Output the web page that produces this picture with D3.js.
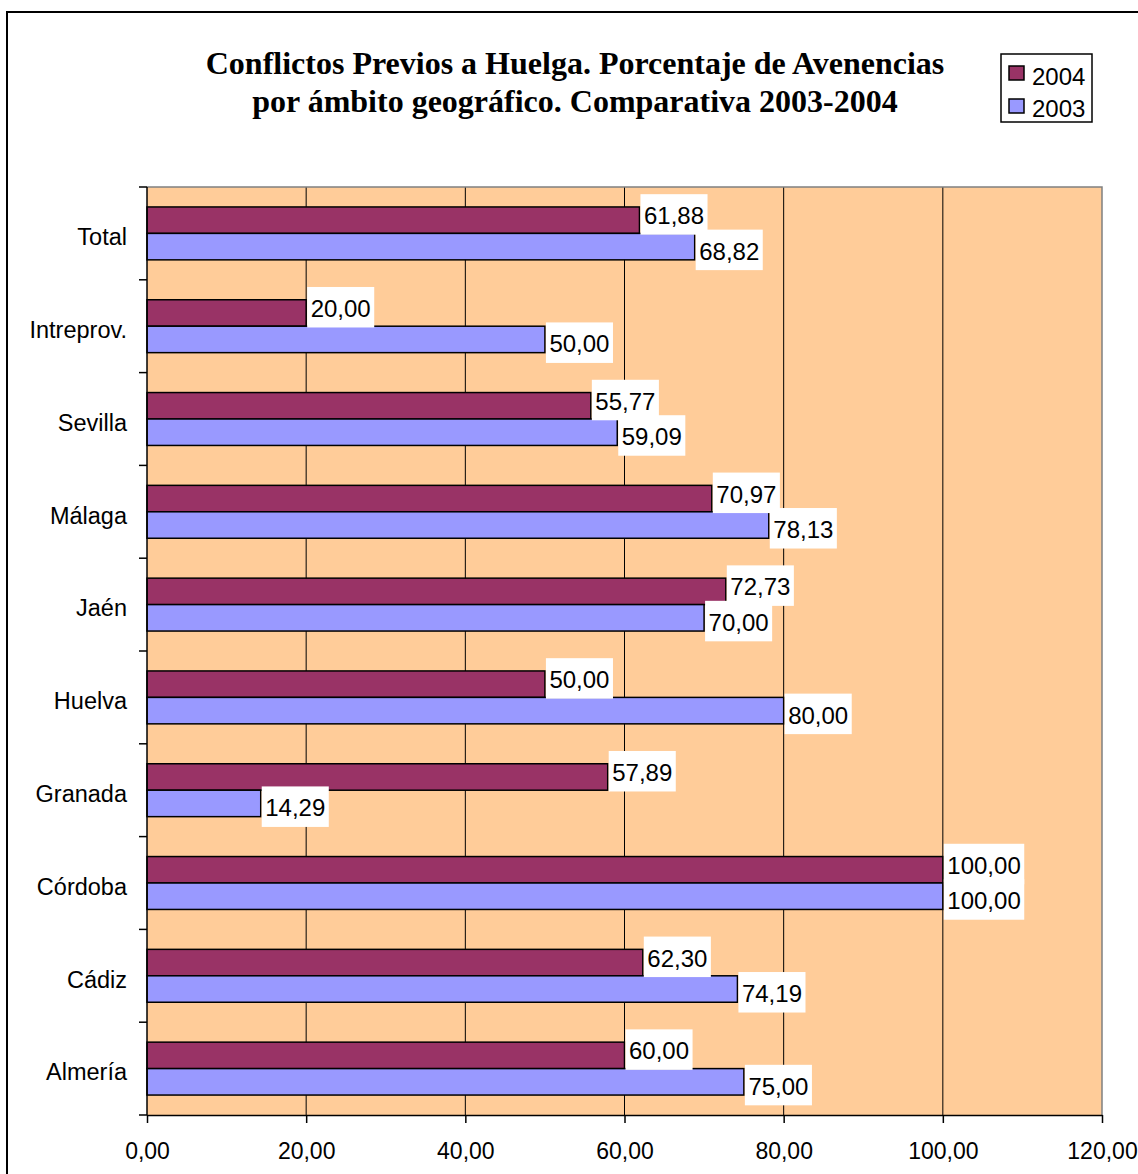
<!DOCTYPE html>
<html><head><meta charset="utf-8">
<script src="https://cdn.jsdelivr.net/npm/d3@7"></script>
<style>body{margin:0;background:#fff}</style>
</head><body><svg id="c" width="1138" height="1174"></svg>
<script>
const categories = ["Total","Intreprov.","Sevilla","Málaga","Jaén","Huelva","Granada","Córdoba","Cádiz","Almería"];
const seriesNames = ["2004","2003"];
const values2004 = [61.88,20.00,55.77,70.97,72.73,50.00,57.89,100.00,62.30,60.00];
const values2003 = [68.82,50.00,59.09,78.13,70.00,80.00,14.29,100.00,74.19,75.00];
const xTicks = [0,20,40,60,80,100,120];
const titleLines = ["Conflictos Previos a Huelga. Porcentaje de Avenencias","por ámbito geográfico. Comparativa 2003-2004"];
const legendOrder = ["2004","2003"];
const seriesColors = {"2004":"#993366","2003":"#9999FF"};

const seriesValues = {"2004":values2004,"2003":values2003};
const fmt = v => d3.format(".2f")(v).replace(".", ",");
const SANS = "'Liberation Sans', Arial, sans-serif";
const SERIF = "'Liberation Serif', 'Times New Roman', serif";

const svg = d3.select("#c");
const L = 147, R = 1102, T = 187, B = 1115;

// outer border
svg.append("rect").attr("x",7).attr("y",12).attr("width",1200).attr("height",1200)
  .attr("fill","none").attr("stroke","#000").attr("stroke-width",2);

const x = d3.scaleLinear().domain([0,120]).range([L,R]);
const y = d3.scaleBand().domain(categories).range([T,B]).paddingInner(0.43).paddingOuter(0.215);
const ySub = d3.scaleBand().domain(seriesNames).range([0,y.bandwidth()]);

// plot background
svg.append("rect").attr("x",L).attr("y",T).attr("width",R-L).attr("height",B-T).attr("fill","#FFCC99");

// gridlines
svg.append("g").selectAll("line").data(xTicks.filter(t=>t>0 && t<120)).join("line")
  .attr("x1",d=>x(d)).attr("x2",d=>x(d)).attr("y1",T).attr("y2",B)
  .attr("stroke","#000").attr("stroke-width",1);

// plot border top/right
svg.append("path").attr("d",`M${L},${T}H${R}V${B}`).attr("fill","none")
  .attr("stroke","#808080").attr("stroke-width",1.5);

// bars
const rows = [];
categories.forEach((c,i)=>seriesNames.forEach(s=>rows.push({c,s,v:seriesValues[s][i]})));
svg.append("g").selectAll("rect").data(rows).join("rect")
  .attr("x",x(0)).attr("y",d=>y(d.c)+ySub(d.s))
  .attr("width",d=>x(d.v)-x(0)).attr("height",ySub.bandwidth())
  .attr("fill",d=>seriesColors[d.s]).attr("stroke","#000").attr("stroke-width",1.5);

// bottom axis
const xa = svg.append("g").attr("transform",`translate(0,${B})`)
  .call(d3.axisBottom(x).tickValues(xTicks).tickSize(8).tickPadding(20).tickFormat(fmt).tickSizeOuter(0));
xa.select(".domain").attr("stroke","#000").attr("stroke-width",1.5);
xa.selectAll(".tick line").attr("stroke","#000").attr("stroke-width",1.5);
xa.selectAll("text").attr("font-family",SANS).attr("font-size",23).attr("fill","#000");

// left axis
const ya = svg.append("g").attr("transform",`translate(${L},0)`)
  .call(d3.axisLeft(y).tickSize(0).tickPadding(20));
ya.select(".domain").remove();
ya.selectAll("text").attr("font-family",SANS).attr("font-size",23.5).attr("fill","#000").attr("dy","0.5em");
svg.append("line").attr("x1",L).attr("x2",L).attr("y1",T).attr("y2",B).attr("stroke","#000").attr("stroke-width",1.5);
const bounds = d3.range(categories.length+1).map(i=>T+i*y.step());
svg.append("g").selectAll("line").data(bounds).join("line")
  .attr("x1",L-8).attr("x2",L).attr("y1",d=>d).attr("y2",d=>d)
  .attr("stroke","#000").attr("stroke-width",1.5);

// data labels (2004 first, 2003 on top)
const lg = svg.append("g");
seriesNames.forEach(s=>{
  rows.filter(r=>r.s===s).forEach(r=>{
    const g = lg.append("g");
    const cy = y(r.c)+ySub(r.s)+ySub.bandwidth()/2 + (s==="2004" ? -6 : 3);
    const left = x(r.v)+1;
    const top = cy-20;
    const rect = g.append("rect").attr("fill","#fff");
    const t = g.append("text").attr("x",left+3.5).attr("y",top+30)
      .attr("font-family",SANS).attr("font-size",24).attr("fill","#000").text(fmt(r.v));
    const w = t.node().getComputedTextLength();
    rect.attr("x",left).attr("y",top).attr("width",w+7).attr("height",40.5);
  });
});

// title
svg.append("g").selectAll("text").data(titleLines).join("text")
  .attr("x",575).attr("y",(d,i)=>74+i*38).attr("text-anchor","middle")
  .attr("font-family",SERIF).attr("font-weight","bold").attr("font-size",32).attr("fill","#000")
  .text(d=>d);

// legend
const leg = svg.append("g");
leg.append("rect").attr("x",1001).attr("y",54).attr("width",91).attr("height",68)
  .attr("fill","#fff").attr("stroke","#000").attr("stroke-width",1.5);
legendOrder.forEach((s,i)=>{
  leg.append("rect").attr("x",1009).attr("y",66+i*33).attr("width",15).attr("height",14)
    .attr("fill",seriesColors[s]).attr("stroke","#000").attr("stroke-width",1.5);
  leg.append("text").attr("x",1032).attr("y",85+i*32).attr("font-family",SANS).attr("font-size",24)
    .attr("fill","#000").text(s);
});
</script></body></html>
